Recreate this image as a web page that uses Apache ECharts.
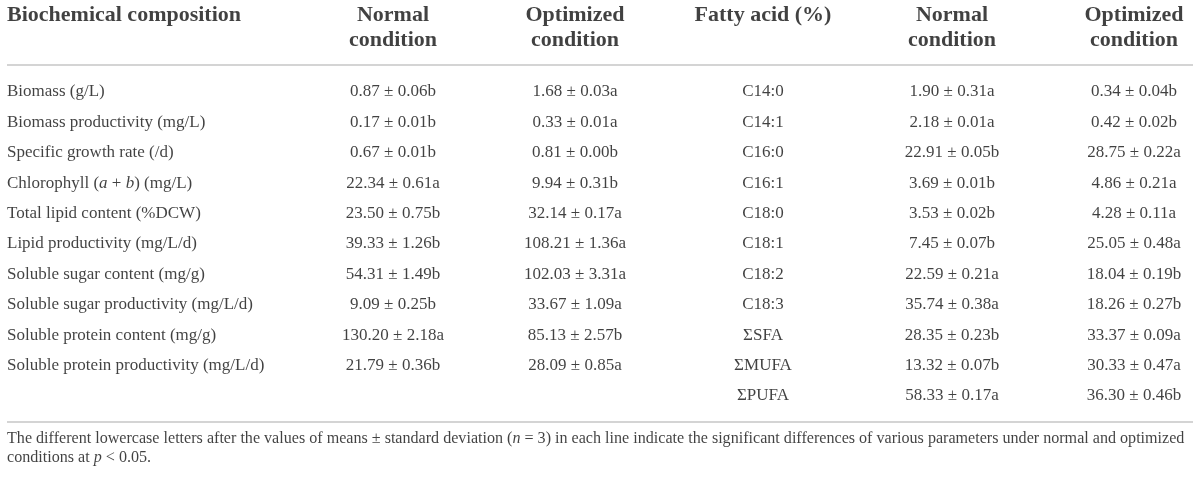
<!DOCTYPE html>
<html>
<head>
<meta charset="utf-8">
<script src="https://cdn.jsdelivr.net/npm/echarts@6/dist/echarts.min.js"></script>
<style>
html,body{margin:0;padding:0;background:#fff;}
#chart{width:1200px;height:479px;}
</style>
</head>
<body>
<div id="chart"></div>
<script>
// ---------- data ----------
var params = ["Biomass (g/L)", "Biomass productivity (mg/L)", "Specific growth rate (/d)",
  "CHLORO", "Total lipid content (%DCW)", "Lipid productivity (mg/L/d)",
  "Soluble sugar content (mg/g)", "Soluble sugar productivity (mg/L/d)",
  "Soluble protein content (mg/g)", "Soluble protein productivity (mg/L/d)"];
var normalMean = [0.87, 0.17, 0.67, 22.34, 23.50, 39.33, 54.31, 9.09, 130.20, 21.79];
var normalSD   = [0.06, 0.01, 0.01, 0.61, 0.75, 1.26, 1.49, 0.25, 2.18, 0.36];
var normalSig  = ["b", "b", "b", "a", "b", "b", "b", "b", "a", "b"];
var optMean = [1.68, 0.33, 0.81, 9.94, 32.14, 108.21, 102.03, 33.67, 85.13, 28.09];
var optSD   = [0.03, 0.01, 0.00, 0.31, 0.17, 1.36, 3.31, 1.09, 2.57, 0.85];
var optSig  = ["a", "a", "b", "b", "a", "a", "a", "a", "b", "a"];

var fattyAcids = ["C14:0", "C14:1", "C16:0", "C16:1", "C18:0", "C18:1", "C18:2", "C18:3", "ΣSFA", "ΣMUFA", "ΣPUFA"];
var faNormalMean = [1.90, 2.18, 22.91, 3.69, 3.53, 7.45, 22.59, 35.74, 28.35, 13.32, 58.33];
var faNormalSD   = [0.31, 0.01, 0.05, 0.01, 0.02, 0.07, 0.21, 0.38, 0.23, 0.07, 0.17];
var faNormalSig  = ["a", "a", "b", "b", "b", "b", "a", "a", "b", "b", "a"];
var faOptMean = [0.34, 0.42, 28.75, 4.86, 4.28, 25.05, 18.04, 18.26, 33.37, 30.33, 36.30];
var faOptSD   = [0.04, 0.02, 0.22, 0.21, 0.11, 0.48, 0.19, 0.27, 0.09, 0.47, 0.46];
var faOptSig  = ["b", "b", "a", "a", "a", "a", "b", "b", "a", "a", "b"];

var headers = ["Biochemical composition", "Normal\ncondition", "Optimized\ncondition",
  "Fatty acid (%)", "Normal\ncondition", "Optimized\ncondition"];
var footnote1 = "The different lowercase letters after the values of means ± standard deviation ({i|n} = 3) in each line indicate the significant differences of various parameters under normal and optimized";
var footnote2 = "conditions at {i|p} < 0.05.";

// ---------- layout ----------
var colX = [7, 393, 575, 763, 952, 1134];
var headerRow = -2.53, headerRow2 = -1.71;
var ruleTop = -0.89, ruleBottom = 10.86;
var footRows = [11.42, 12.02];
var textColor = "#111111";
var FONT = "Liberation Serif";

function fmt(m, s, g) { return m.toFixed(2) + " ± " + s.toFixed(2) + g; }

function cellSeries(name, col, texts, left, bold, size) {
  return {
    name: name, type: "scatter", silent: true, symbolSize: 0,
    data: texts.map(function (t, i) { return { value: [colX[col], i], text: t }; }),
    label: {
      show: true,
      position: left ? "right" : "inside",
      distance: 0,
      align: left ? "left" : "center",
      verticalAlign: "middle",
      color: textColor,
      textBorderWidth: 0,
      fontFamily: FONT,
      fontSize: size || 17,
      fontWeight: bold ? "bold" : "normal",
      formatter: function (p) { return p.data.text; },
      rich: {
        i: { fontStyle: "italic", fontFamily: FONT, fontSize: size || 17, color: textColor }
      }
    }
  };
}

var series = [];
// parameter names (Chlorophyll with italic a, b)
var paramTexts = params.map(function (p) {
  return p === "CHLORO" ? "Chlorophyll ({i|a} + {i|b}) (mg/L)" : p;
});
series.push(cellSeries("params", 0, paramTexts, true));
series.push(cellSeries("normal", 1, normalMean.map(function (m, i) { return fmt(m, normalSD[i], normalSig[i]); })));
series.push(cellSeries("optimized", 2, optMean.map(function (m, i) { return fmt(m, optSD[i], optSig[i]); })));
series.push(cellSeries("fatty", 3, fattyAcids));
series.push(cellSeries("faNormal", 4, faNormalMean.map(function (m, i) { return fmt(m, faNormalSD[i], faNormalSig[i]); })));
series.push(cellSeries("faOpt", 5, faOptMean.map(function (m, i) { return fmt(m, faOptSD[i], faOptSig[i]); })));

// headers
headers.forEach(function (h, c) {
  var lines = h.split("\n");
  lines.forEach(function (ln, k) {
    var s = cellSeries("h" + c + "_" + k, c, [ln], c === 0, true, 22);
    s.data[0].value = [colX[c], k === 0 ? headerRow : headerRow2];
    series.push(s);
  });
});

// footnote
[footnote1, footnote2].forEach(function (f, k) {
  var s = cellSeries("foot" + k, 0, [f], true, false, 16.1);
  s.data[0].value = [colX[0], footRows[k]];
  series.push(s);
});

// rules
series.push({
  type: "line", silent: true, data: [], symbol: "none",
  markLine: {
    silent: true, symbol: "none", label: { show: false },
    lineStyle: { color: "#d4d4d4", width: 2, type: "solid" },
    data: [
      [{ coord: [7, ruleTop] }, { coord: [1193, ruleTop] }],
      [{ coord: [7, ruleBottom] }, { coord: [1193, ruleBottom] }]
    ]
  }
});

var chart = echarts.init(document.getElementById("chart"), null, { renderer: "canvas" });
chart.setOption({
  animation: false,
  backgroundColor: "#ffffff",
  grid: { left: 0, right: 0, top: 0, bottom: 0 },
  xAxis: { type: "value", min: 0, max: 1200, show: false },
  yAxis: { type: "value", inverse: true, min: -92 / 30.4, max: (479 - 92) / 30.4, show: false },
  series: series
});
</script>
</body>
</html>
